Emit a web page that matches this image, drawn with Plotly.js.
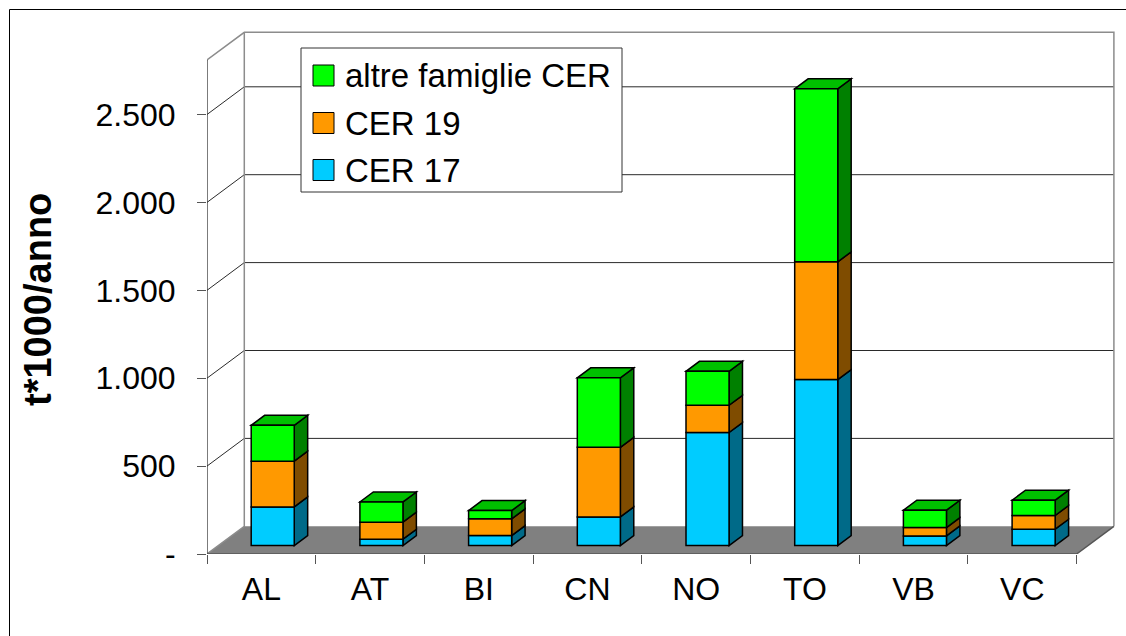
<!DOCTYPE html>
<html>
<head>
<meta charset="utf-8">
<script src="https://cdn.plot.ly/plotly-3.0.1.min.js"></script>
<style>
html, body { margin: 0; padding: 0; background: #ffffff; }
#chart { width: 1126px; height: 636px; }
</style>
</head>
<body>
<div id="chart"></div>
<script>
// ---------------- data ----------------
const categories = ['AL', 'AT', 'BI', 'CN', 'NO', 'TO', 'VB', 'VC'];
const cer17 = [220, 36, 57, 163, 643, 944, 55, 93];
const cer19 = [260, 97, 95, 396, 155, 670, 47, 78];
const altre = [204, 115, 47, 395, 193, 984, 99, 87];
const seriesNames = ['CER 17', 'CER 19', 'altre famiglie CER'];
const yTickVals = [0, 500, 1000, 1500, 2000, 2500];
const yTickText = ['-', '500', '1.000', '1.500', '2.000', '2.500'];
const yTitle = 't*1000/anno';

// ---------------- geometry / style ----------------
const W = 1126, H = 636;
const M = { l: 207, r: 9, t: 28, b: 82 };
const pxPerCat = 108.7;
const pxPerUnit = 0.1758;
const plotW = W - M.l - M.r, plotH = H - M.t - M.b;
const xRange = [-0.5, -0.5 + plotW / pxPerCat];
const yRange = [0, plotH / pxPerUnit];
const DX = 37.3 / pxPerCat, DY = 27.7 / pxPerUnit;   // full 3D depth
const wallTop = 2810;
const barWidth = 0.396, frontFrac = 0.305, depthFrac = 0.36;
const offF = frontFrac * DX, dyF = frontFrac * DY;
const ddx = depthFrac * DX, ddy = depthFrac * DY;
const nCat = categories.length;
const xL = -0.5, xR = nCat - 0.5;

const FONT = 'Liberation Sans, Arial, sans-serif';
const frontColors = ['#00CCFF', '#FF9900', '#00FF00'];
const sideColors = ['#006A88', '#7F4C00', '#008000'];
const topColor = '#00C000';
const wallEdge = '#8C8C8C';
const gridColor = '#2A2A2A';

const px2paperX = px => (px - M.l) / plotW;
const px2paperY = py => (H - M.b - py) / plotH;

// ---------------- frame shapes ----------------
const shapes = [];
const P = pts => 'M' + pts.map(p => p[0] + ',' + p[1]).join('L') + 'Z';
const L = pts => 'M' + pts.map(p => p[0] + ',' + p[1]).join('L');

// left wall
shapes.push({ type: 'path', xref: 'x', yref: 'y', layer: 'below',
  path: P([[xL, 0], [xL, wallTop], [xL + DX, wallTop + DY], [xL + DX, DY]]),
  fillcolor: '#ffffff', line: { width: 0 } });
// back wall
shapes.push({ type: 'path', xref: 'x', yref: 'y', layer: 'below',
  path: P([[xL + DX, DY], [xR + DX, DY], [xR + DX, wallTop + DY], [xL + DX, wallTop + DY]]),
  fillcolor: '#ffffff', line: { width: 0 } });
// gridlines on back wall + slanted lines on left wall
yTickVals.forEach(v => {
  if (v === 0) return;
  shapes.push({ type: 'path', xref: 'x', yref: 'y', layer: 'below',
    path: L([[xL, v], [xL + DX, v + DY], [xR + DX, v + DY]]),
    line: { color: gridColor, width: 1 } });
});
// floor
shapes.push({ type: 'path', xref: 'x', yref: 'y', layer: 'below',
  path: P([[xL, 0], [xR, 0], [xR + DX, DY], [xL + DX, DY]]),
  fillcolor: '#808080', line: { width: 0 } });
// wall edges
shapes.push({ type: 'path', xref: 'x', yref: 'y', layer: 'below',
  path: L([[xL, 0], [xL + DX, DY], [xL + DX, wallTop + DY]]),
  line: { color: wallEdge, width: 1.5 } });
shapes.push({ type: 'path', xref: 'x', yref: 'y', layer: 'below',
  path: L([[xL, wallTop], [xL + DX, wallTop + DY], [xR + DX, wallTop + DY], [xR + DX, DY]]),
  line: { color: wallEdge, width: 1.5 } });
shapes.push({ type: 'path', xref: 'x', yref: 'y', layer: 'below',
  path: L([[xL, 0], [xL, wallTop]]),
  line: { color: '#222222', width: 1.2 } });
shapes.push({ type: 'path', xref: 'x', yref: 'y', layer: 'below',
  path: L([[xL, 0], [xR, 0], [xR + DX, DY]]),
  line: { color: '#555555', width: 1.5 } });

// ---------------- bars ----------------
const series = [cer17, cer19, altre];
const cum = categories.map(() => 0);
const traces = [];
series.forEach((vals, s) => {
  const base = cum.map(c => c + dyF);
  traces.push({
    type: 'bar', name: seriesNames[s], x: categories, y: vals, base: base,
    width: barWidth, offset: -barWidth / 2 + offF,
    marker: { color: frontColors[s], line: { color: '#000000', width: 1.5 } },
    showlegend: false, hovertemplate: '%{x}: %{y}<extra>' + seriesNames[s] + '</extra>'
  });
  vals.forEach((v, i) => {
    const x1 = i - barWidth / 2 + offF + barWidth;
    const y0 = base[i], y1 = base[i] + v;
    shapes.push({ type: 'path', xref: 'x', yref: 'y', layer: 'below',
      path: P([[x1, y0], [x1 + ddx, y0 + ddy], [x1 + ddx, y1 + ddy], [x1, y1]]),
      fillcolor: sideColors[s], line: { color: '#000000', width: 1.5 } });
    cum[i] += v;
  });
});
cum.forEach((t, i) => {
  const x0 = i - barWidth / 2 + offF, x1 = x0 + barWidth, T = t + dyF;
  shapes.push({ type: 'path', xref: 'x', yref: 'y', layer: 'below',
    path: P([[x0, T], [x1, T], [x1 + ddx, T + ddy], [x0 + ddx, T + ddy]]),
    fillcolor: topColor, line: { color: '#000000', width: 1.5 } });
});

// ---------------- legend (manual) ----------------
const annotations = [];
const legBox = { x0: 301, x1: 622, y0: 48, y1: 192 };
shapes.push({ type: 'rect', xref: 'paper', yref: 'paper', layer: 'above',
  x0: px2paperX(legBox.x0), x1: px2paperX(legBox.x1),
  y0: px2paperY(legBox.y1), y1: px2paperY(legBox.y0),
  fillcolor: '#ffffff', line: { color: '#333333', width: 1 } });
const legOrder = [2, 1, 0];
const legRowY = [75.5, 123, 170];
legOrder.forEach((s, k) => {
  const cy = legRowY[k];
  shapes.push({ type: 'rect', xref: 'paper', yref: 'paper', layer: 'above',
    x0: px2paperX(313), x1: px2paperX(334),
    y0: px2paperY(cy + 10.5), y1: px2paperY(cy - 10.5),
    fillcolor: frontColors[s], line: { color: '#000000', width: 1 } });
  annotations.push({ xref: 'paper', yref: 'paper', x: px2paperX(343), y: px2paperY(cy),
    xanchor: 'left', yanchor: 'middle', showarrow: false, text: seriesNames[s],
    font: { family: FONT, size: 33, color: '#000000' } });
});

// y-axis title (rotated annotation for exact placement)
annotations.push({ xref: 'paper', yref: 'paper', x: px2paperX(38), y: px2paperY(300),
  xanchor: 'center', yanchor: 'middle', showarrow: false, textangle: -90, text: yTitle,
  font: { family: FONT, size: 38, color: '#000000', weight: 'bold' } });

// outer chart border
shapes.push({ type: 'rect', xref: 'paper', yref: 'paper', layer: 'above',
  x0: px2paperX(9.5), x1: px2paperX(1140), y0: px2paperY(650), y1: px2paperY(9.5),
  fillcolor: 'rgba(0,0,0,0)', line: { color: '#000000', width: 1 } });

// ---------------- layout ----------------
const layout = {
  width: W, height: H,
  margin: M,
  paper_bgcolor: '#ffffff', plot_bgcolor: 'rgba(0,0,0,0)',
  barmode: 'overlay',
  showlegend: false,
  font: { family: FONT, size: 32, color: '#000000' },
  xaxis: {
    type: 'category', categoryorder: 'array', categoryarray: categories,
    range: xRange, tickson: 'boundaries',
    ticks: 'outside', ticklen: 9, tickwidth: 1, tickcolor: '#555555',
    showgrid: false, zeroline: false, showline: false,
    ticklabelstandoff: 13,
    tickfont: { family: FONT, size: 32, color: '#000000' },
    fixedrange: true
  },
  yaxis: {
    range: yRange, tickmode: 'array', tickvals: yTickVals, ticktext: yTickText,
    ticks: 'outside', ticklen: 9, tickwidth: 1, tickcolor: '#555555',
    showgrid: false, zeroline: false, showline: false,
    ticklabelstandoff: 15,
    tickfont: { family: FONT, size: 32, color: '#000000' },
    fixedrange: true
  },
  shapes: shapes,
  annotations: annotations
};

Plotly.newPlot('chart', traces, layout, { displayModeBar: false, staticPlot: true });
</script>
</body>
</html>
